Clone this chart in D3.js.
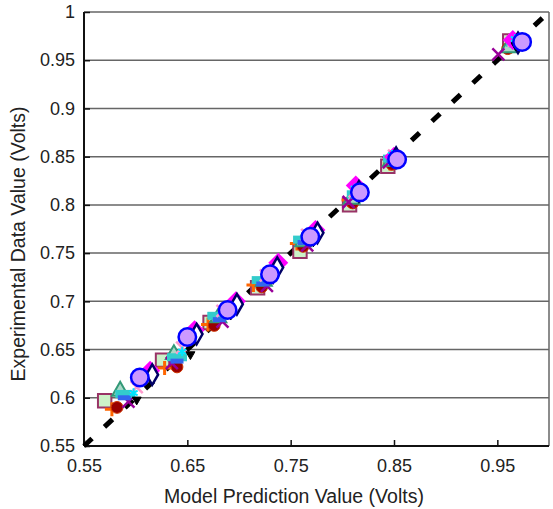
<!DOCTYPE html>
<html lang="en">
<head>
  <meta charset="UTF-8">
  <title>Model vs Experiment</title>
  <script src="https://d3js.org/d3.v7.min.js"></script>
  <style>
    body { margin: 0; background: #fff; }
    svg { display: block; font-family: "Liberation Sans", Arial, sans-serif; }
    .tick-label { font-size: 18px; fill: #222; }
    .axis-title { font-size: 19.5px; fill: #222; }
    .grid { stroke: #666; stroke-width: 1.5; }
  </style>
</head>
<body>
<svg width="553" height="509"></svg>
<script>
const svg = d3.select("svg");
const margin = { left: 84, right: 4, top: 12, bottom: 63 };
const width = 553, height = 509;

// === Data ===
const xTicks = [0.55, 0.65, 0.75, 0.85, 0.95];
const yTicks = [0.55, 0.6, 0.65, 0.7, 0.75, 0.8, 0.85, 0.9, 0.95, 1];

const squarePred = [0.570, 0.626, 0.672, 0.718, 0.759, 0.807, 0.844, 0.962];
const squareExp  = [0.597, 0.639, 0.678, 0.714, 0.752, 0.800, 0.840, 0.970];
const plusPred   = [0.577, 0.628, 0.670, 0.714, 0.756, 0.806, 0.846, 0.963];
const plusExp    = [0.588, 0.631, 0.676, 0.717, 0.760, 0.805, 0.843, 0.964];
const dotPred    = [0.582, 0.640, 0.676, 0.722, 0.762, 0.810, 0.848, 0.960];
const dotExp     = [0.590, 0.632, 0.675, 0.715, 0.757, 0.802, 0.842, 0.962];
const triPred    = [0.585, 0.637, 0.680, 0.724, 0.762, 0.809, 0.847, 0.961];
const triExp     = [0.607, 0.645, 0.683, 0.721, 0.762, 0.806, 0.845, 0.963];
const cyanPred   = [0.590, 0.640, 0.679, 0.722, 0.762, 0.814, 0.849, 0.968];
const cyanExp    = [0.604, 0.642, 0.685, 0.722, 0.764, 0.811, 0.848, 0.968];
const bluePred   = [0.589, 0.640, 0.681, 0.723, 0.763, 0.814, 0.849, 0.967];
const blueExp    = [0.600, 0.638, 0.681, 0.718, 0.761, 0.809, 0.846, 0.966];
const crossPred  = [0.593, 0.635, 0.684, 0.727, 0.766, 0.806, 0.845, 0.951];
const crossExp   = [0.596, 0.636, 0.679, 0.716, 0.758, 0.803, 0.844, 0.956];
const pinkPred   = [0.601, 0.645, 0.684, 0.726, 0.766, 0.812, 0.850, 0.966];
const pinkExp    = [0.611, 0.652, 0.690, 0.727, 0.769, 0.814, 0.851, 0.970];
const magPred    = [0.614, 0.657, 0.697, 0.738, 0.774, 0.813, 0.850, 0.965];
const magExp     = [0.628, 0.670, 0.700, 0.740, 0.774, 0.820, 0.850, 0.971];
const diaPred    = [0.616, 0.659, 0.698, 0.737, 0.776, 0.816, 0.852, 0.970];
const diaExp     = [0.624, 0.666, 0.697, 0.735, 0.771, 0.814, 0.849, 0.968];
const starPred   = [0.598, 0.645, 0.686, 0.728, 0.768, 0.812, 0.848, 0.967];
const starExp    = [0.605, 0.648, 0.687, 0.726, 0.770, 0.817, 0.852, 0.972];
const blackPred  = [0.601, 0.653, 0.692, 0.733, 0.772, 0.817, 0.853, 0.968];
const blackExp   = [0.598, 0.645, 0.686, 0.723, 0.762, 0.808, 0.845, 0.965];
const circPred   = [0.604, 0.650, 0.689, 0.730, 0.769, 0.817, 0.853, 0.974];
const circExp    = [0.621, 0.663, 0.691, 0.728, 0.767, 0.813, 0.847, 0.969];

// === Scales ===
const x = d3.scaleLinear().domain([0.55, 1]).range([margin.left, width - margin.right]);
const y = d3.scaleLinear().domain([0.55, 1]).range([height - margin.bottom, margin.top]);
const x0 = x.range()[0], x1 = x.range()[1], y0 = y.range()[0], y1 = y.range()[1];

// === Grid + frame ===
svg.append("g").selectAll("line")
  .data(yTicks.filter(d => d > 0.55))
  .join("line")
  .attr("class", "grid")
  .attr("x1", x0).attr("x2", x1)
  .attr("y1", d => y(d)).attr("y2", d => y(d));

svg.append("line").attr("class", "grid")
  .attr("x1", x1).attr("x2", x1).attr("y1", y1).attr("y2", y0);

// === Axes (ticks inside) ===
const xAxis = d3.axisBottom(x).tickValues(xTicks).tickSize(-6).tickPadding(13)
  .tickFormat(d3.format(".2f"));
const yAxis = d3.axisLeft(y).tickValues(yTicks).tickSize(-6).tickPadding(9)
  .tickFormat(d => d === 1 ? "1" : d3.format("")(+d.toFixed(2)));

const gx = svg.append("g").attr("transform", `translate(0,${y0})`).call(xAxis);
const gy = svg.append("g").attr("transform", `translate(${x0},0)`).call(yAxis);
[gx, gy].forEach(g => {
  g.select(".domain").attr("stroke", "#111").attr("stroke-width", 2);
  g.selectAll(".tick line").attr("stroke", "#111").attr("stroke-width", 1.5);
  g.selectAll(".tick text").attr("class", "tick-label").attr("font-family", null).attr("font-size", null);
});
gx.select(".domain").attr("d", `M${x0},0H${x1}`);
gy.select(".domain").attr("d", `M0,${y0}V${y1}`);

// === Titles ===
svg.append("text").attr("class", "axis-title")
  .attr("x", 294).attr("y", 503).attr("text-anchor", "middle")
  .text("Model Prediction Value (Volts)");
svg.append("text").attr("class", "axis-title")
  .attr("transform", `translate(25,244) rotate(-90)`)
  .attr("text-anchor", "middle")
  .text("Experimental Data Value (Volts)");

// === y = x reference ===
svg.append("line")
  .attr("x1", x(0.55)).attr("y1", y(0.55))
  .attr("x2", x(1)).attr("y2", y(1))
  .attr("stroke", "#000").attr("stroke-width", 5)
  .attr("stroke-dasharray", "11,17");

// === Series ===
const zip = (a, b) => a.map((v, i) => ({ px: v, ex: b[i] }));
const series = [
  { pred: squarePred, exp: squareExp, sym: d3.symbolSquare, size: 180, fill: "#ccf2c8", stroke: "#993366", sw: 2 },
  { pred: plusPred, exp: plusExp, plus: true, stroke: "#ff6600", sw: 3 },
  { pred: dotPred, exp: dotExp, sym: d3.symbolCircle, size: 110, fill: "#990000", stroke: "#cc3300", sw: 1 },
  { pred: triPred, exp: triExp, sym: d3.symbolTriangle, size: 110, fill: "#aad8c8", stroke: "#339977", sw: 2 },
  { pred: crossPred, exp: crossExp, xmark: true, stroke: "#990099", sw: 2.5 },
  { pred: cyanPred, exp: cyanExp, rect: [20, 8], fill: "#33cccc" },
  { pred: bluePred, exp: blueExp, rect: [13, 5], fill: "#3366ee" },
  { pred: pinkPred, exp: pinkExp, xmark: true, stroke: "#ff99cc", sw: 2.5 },
  { pred: magPred, exp: magExp, sym: d3.symbolSquare, size: 200, fill: "#ff00ff", stroke: "none", sw: 0, rot: 45 },
  { pred: diaPred, exp: diaExp, sym: d3.symbolDiamond, size: 120, fill: "#fff", stroke: "#000066", sw: 2.5 },
  { pred: starPred, exp: starExp, sym: d3.symbolAsterisk, size: 60, fill: "none", stroke: "#00e5ff", sw: 2 },
  { pred: blackPred, exp: blackExp, sym: d3.symbolTriangle, size: 35, fill: "#000", stroke: "#000", sw: 1, rot: 180 },
  { pred: circPred, exp: circExp, sym: d3.symbolCircle, size: 240, fill: "#cc99ff", stroke: "#0000ff", sw: 2.5 }
];

series.forEach(s => {
  const g = svg.append("g");
  const pts = g.selectAll("g").data(zip(s.pred, s.exp)).join("g")
    .attr("transform", d => `translate(${x(d.px)},${y(d.ex)})${s.rot ? ` rotate(${s.rot})` : ""}`);
  if (s.rect) {
    pts.append("rect")
      .attr("x", -s.rect[0] / 2).attr("y", -s.rect[1] / 2)
      .attr("width", s.rect[0]).attr("height", s.rect[1])
      .attr("fill", s.fill);
  } else if (s.plus) {
    pts.append("path").attr("d", "M-7,0H7M0,-7V7")
      .attr("stroke", s.stroke).attr("stroke-width", s.sw);
  } else if (s.xmark) {
    pts.append("path").attr("d", "M-6,-6L6,6M-6,6L6,-6")
      .attr("stroke", s.stroke).attr("stroke-width", s.sw);
  } else {
    pts.append("path").attr("d", d3.symbol(s.sym, s.size))
      .attr("fill", s.fill).attr("stroke", s.stroke).attr("stroke-width", s.sw);
  }
});
</script>
</body>
</html>
